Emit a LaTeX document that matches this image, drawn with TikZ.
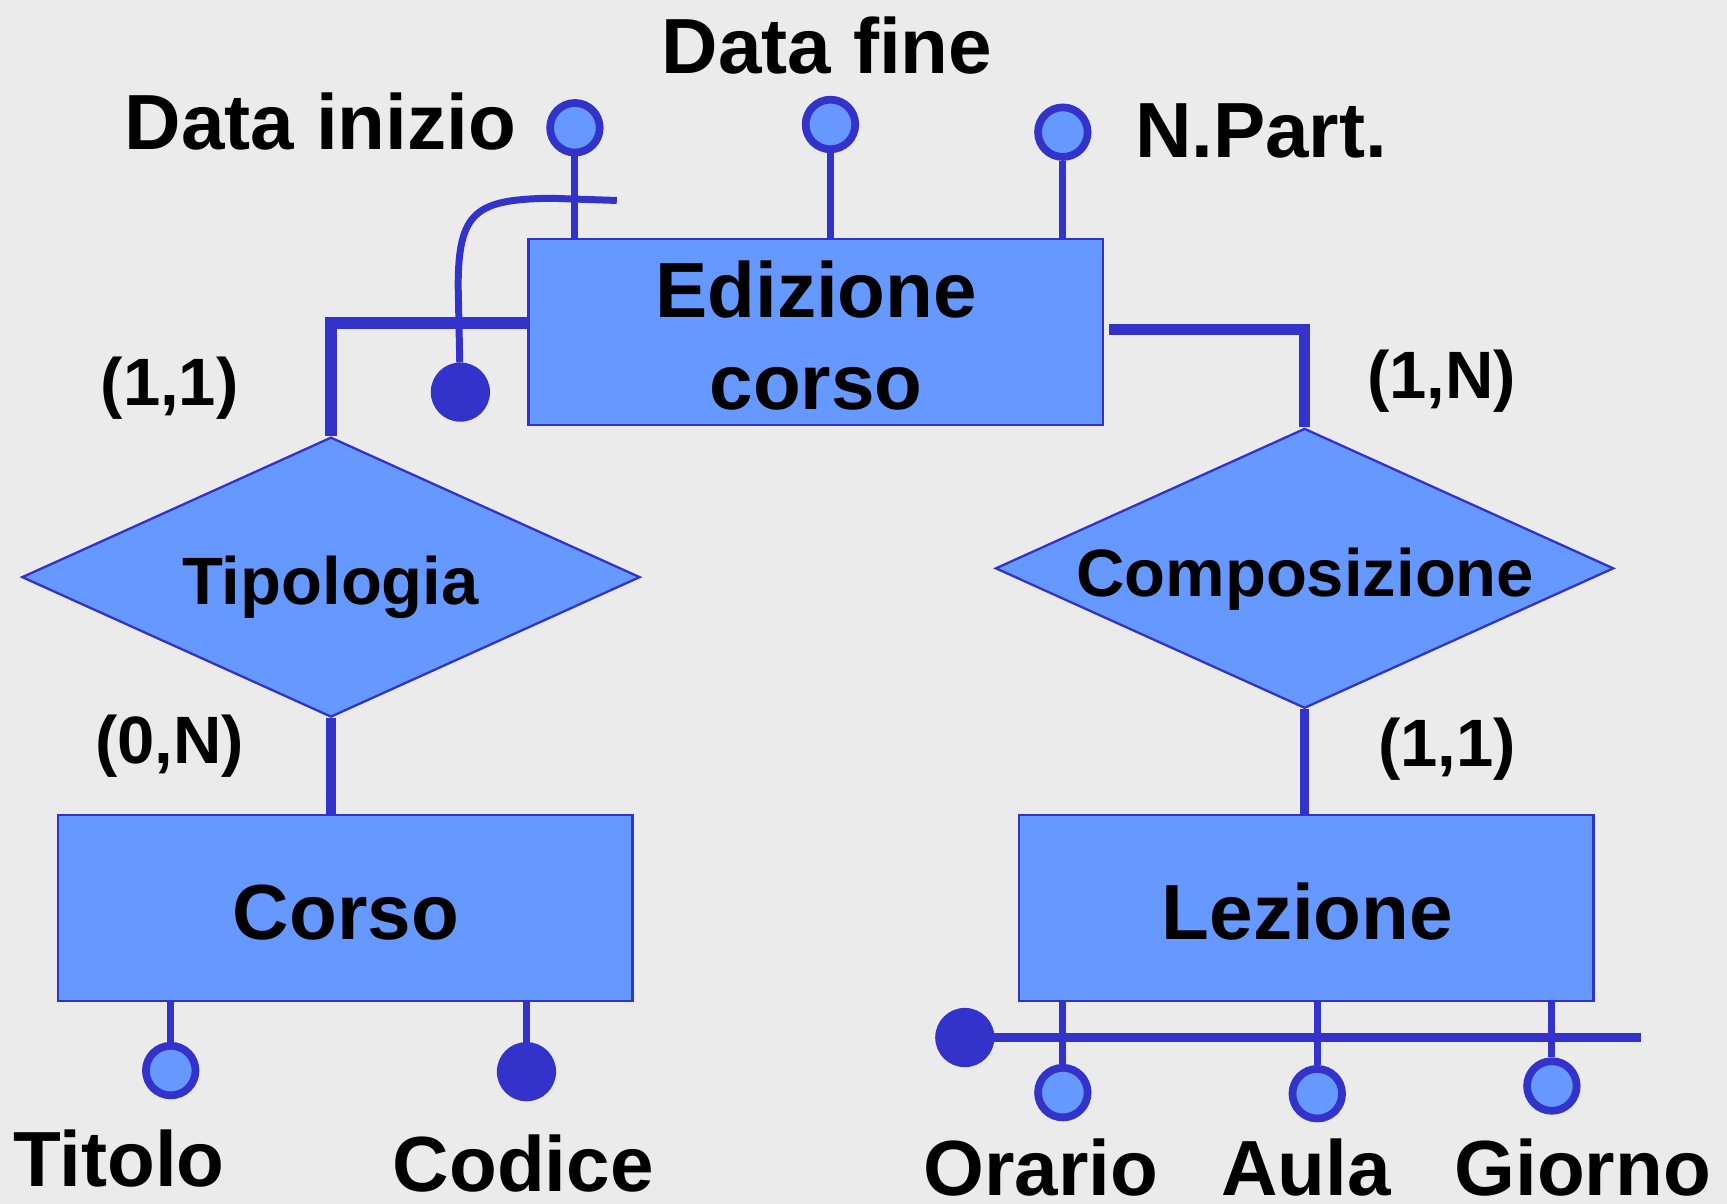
\documentclass[tikz,border=0pt]{standalone}
\usepackage{fontspec}
\setmainfont{Liberation Sans}
\usetikzlibrary{shapes.geometric}
\definecolor{bgc}{HTML}{EBEBEB}
\definecolor{fillb}{HTML}{6699FF}
\definecolor{lineb}{HTML}{3333CC}
\begin{document}
\begin{tikzpicture}[x=0.01cm,y=-0.01cm,
  entity/.style={draw=lineb, line width=0.6pt, fill=fillb, rectangle, inner sep=0pt, minimum width=5.21cm, minimum height=1.69cm},
  rel/.style={draw=lineb, line width=0.6pt, fill=fillb, diamond, inner sep=0pt, minimum width=5.61cm, minimum height=2.54cm},
  big/.style={font=\fontsize{20.2}{22}\selectfont\bfseries, inner sep=0pt, anchor=base},
  mid/.style={font=\fontsize{17.3}{20}\selectfont\bfseries, inner sep=0pt, anchor=base},
  attr/.style={circle, draw=lineb, line width=2pt, fill=fillb, minimum size=0.45cm, inner sep=0pt},
  keyc/.style={circle, draw=lineb, fill=lineb, line width=0.5pt, minimum size=0.52cm, inner sep=0pt},
  conn/.style={draw=lineb, line width=3pt},
  aline/.style={draw=lineb, line width=1.8pt},
  cline/.style={draw=lineb, line width=2.5pt}]
\fill[bgc] (0,0) rectangle (1568,1093);
\useasboundingbox (0,0) rectangle (1568,1093);

% entities and relationships
\node[entity] (ed) at (740.5,301.5) {};
\node[entity] (corso) at (313.5,824.5) {};
\node[entity] (lez) at (1186,824.5) {};
\node[rel] (tip) at (300.5,524) {};
\node[rel] (comp) at (1184.5,516) {};

% texts
\node[big] (edT1) at (741,288) {Edizione};
\node[big] (edT2) at (741,372) {corso};
\node[big] (corsoT) at (314,853) {Corso};
\node[big] (lezT) at (1187,853) {Lezione};
\node[mid] (tipT) at (300,549) {Tipologia};
\node[mid] (compT) at (1185,542) {Composizione};
\node[mid] (c1) at (154,368) {(1,1)};
\node[mid] (c2) at (154,693) {(0,N)};
\node[mid] (c3) at (1309,362) {(1,N)};
\node[mid] (c4) at (1314,696) {(1,1)};
\node[big] (tA1) at (291,136) {Data inizio};
\node[big] (tA2) at (751,67) {Data fine};
\node[big] (tA3) at (1145,143) {N.Part.};
\node[big] (tA4) at (108,1077) {Titolo};
\node[big] (tK1) at (475,1082) {Codice};
\node[big] (tA5) at (945,1085) {Orario};
\node[big] (tA6) at (1186,1085) {Aula};
\node[big] (tA7) at (1437,1085) {Giorno};

% attribute circles
\node[attr] (a1) at (522,116) {};
\node[attr] (a2) at (754,113) {};
\node[attr] (a3) at (965,120) {};
\node[attr] (a4) at (155,972) {};
\node[keyc] (k1) at (478,973) {};
\node[attr] (a5) at (965,992) {};
\node[attr] (a6) at (1196,993) {};
\node[attr] (a7) at (1409,986) {};
\node[keyc] (k2) at (876,942) {};
\node[keyc] (k3) at (418,356) {};

% helper coordinates
\coordinate (tjoin) at (300,293);
\coordinate (cjoin) at (1007,299);
\coordinate (kend) at (1490,942);
\coordinate (xend) at (560,182);

% relationship connectors
\draw[conn] (ed.west |- tjoin) -| (tip.north);
\draw[conn] (cjoin) -| (comp.north);
\draw[cline] (tip.south) -- (tip.south |- corso.north);
\draw[cline] (comp.south) -- (comp.south |- lez.north);

% attribute lines
\draw[aline] (a1) -- (a1 |- ed.north);
\draw[aline] (a2) -- (a2 |- ed.north);
\draw[aline] (a3) -- (a3 |- ed.north);
\draw[aline] (a4) -- (a4 |- corso.south);
\draw[aline] (k1) -- (k1 |- corso.south);
\draw[aline] (a5) -- (a5 |- lez.south);
\draw[aline] (a6) -- (a6 |- lez.south);
\draw[aline] (a7) -- (a7 |- lez.south);
\draw[cline] (k2) -- (kend);

% external identifier
\draw[aline] (k3) -- (416,260) .. controls (416,192) and (432,181) .. (500,180) -- (xend);
\end{tikzpicture}
\end{document}
